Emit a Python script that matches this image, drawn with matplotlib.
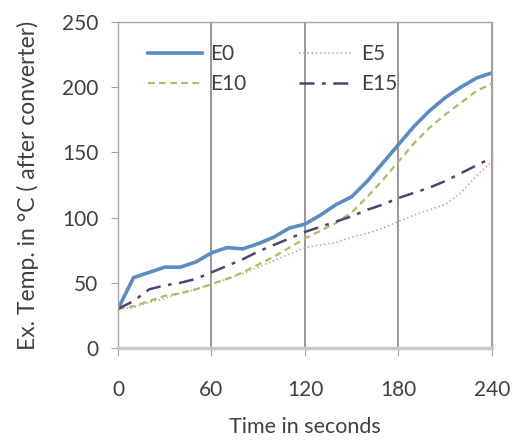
import matplotlib
matplotlib.use("Agg")
import matplotlib.pyplot as plt

plt.rcParams['font.family'] = ['Lato', 'DejaVu Sans']

# time axis (seconds) and exhaust temperatures after converter
time_s = [0, 10, 20, 30, 40, 50, 60, 70, 80, 90, 100, 110, 120,
          130, 140, 150, 160, 170, 180, 190, 200, 210, 220, 230, 240]
e0 = [30, 54, 58, 62, 62, 66, 73, 77, 76, 80, 85, 92, 95,
      102, 110, 116, 128, 142, 156, 170, 182, 192, 200, 207, 211]
e5 = [30, 31, 35, 38, 42, 45, 49, 53, 57, 62, 67, 72, 77,
      79, 81, 85, 88, 92, 97, 102, 106, 110, 119, 132, 143]
e10 = [30, 32, 36, 40, 42, 45, 49, 53, 58, 64, 70, 77, 84,
       90, 96, 104, 116, 129, 143, 157, 169, 179, 188, 197, 203]
e15 = [30, 36, 45, 48, 50, 53, 58, 63, 68, 74, 79, 84, 89,
       93, 97, 101, 106, 110, 115, 119, 123, 128, 134, 140, 146]

x_ticks = [0, 60, 120, 180, 240]
y_ticks = [0, 50, 100, 150, 200, 250]

fig = plt.figure(figsize=(5.23, 4.44), dpi=100)
ax = fig.add_axes([0.2256, 0.2162, 0.7151, 0.7343])

l0, = ax.plot(time_s, e0, color='#5a8cc4', lw=2.6, label='E0')
l5, = ax.plot(time_s, e5, color='#e0a4a2', lw=1.2, linestyle=(0, (1, 1.5)), label='E5')
l10, = ax.plot(time_s, e10, color='#a8c060', lw=1.6, linestyle=(0, (3, 2)), label='E10')
l15, = ax.plot(time_s, e15, color='#4e4577', lw=1.8, linestyle=(0, (6, 3, 1.5, 3)), label='E15')

ax.set_xlim(0, 240)
ax.set_ylim(0, 250)
ax.set_xticks(x_ticks)
ax.set_yticks(y_ticks)

ax.grid(axis='x', color='#909090', lw=1.3)
ax.set_axisbelow(True)
for side in ['left', 'top', 'right']:
    ax.spines[side].set_color('#a6a6a6')
    ax.spines[side].set_linewidth(1.0)
ax.spines['bottom'].set_color('#c8c8c8')
ax.spines['bottom'].set_linewidth(2.5)

ax.tick_params(axis='y', direction='out', length=5, color='#a6a6a6',
               labelsize=15, labelcolor='#404040', pad=9)
ax.tick_params(axis='x', direction='out', length=6, color='#a6a6a6',
               labelsize=15, labelcolor='#404040', pad=17)

ax.set_xlabel('Time in seconds', fontsize=15.5, color='#404040', labelpad=12)
ax.set_ylabel('Ex. Temp. in °C ( after converter)', fontsize=16.5,
              color='#404040', labelpad=17)

# row-wise legend: E0 E5 / E10 E15
ax.legend([l0, l10, l5, l15], ['E0', 'E10', 'E5', 'E15'],
          loc='upper left', bbox_to_anchor=(0.03, 0.99), ncol=2, frameon=False,
          fontsize=15, handlelength=2.6, handletextpad=0.4, columnspacing=2.5,
          labelspacing=0.5, labelcolor='#404040')

fig.savefig('out.png', dpi=100)
